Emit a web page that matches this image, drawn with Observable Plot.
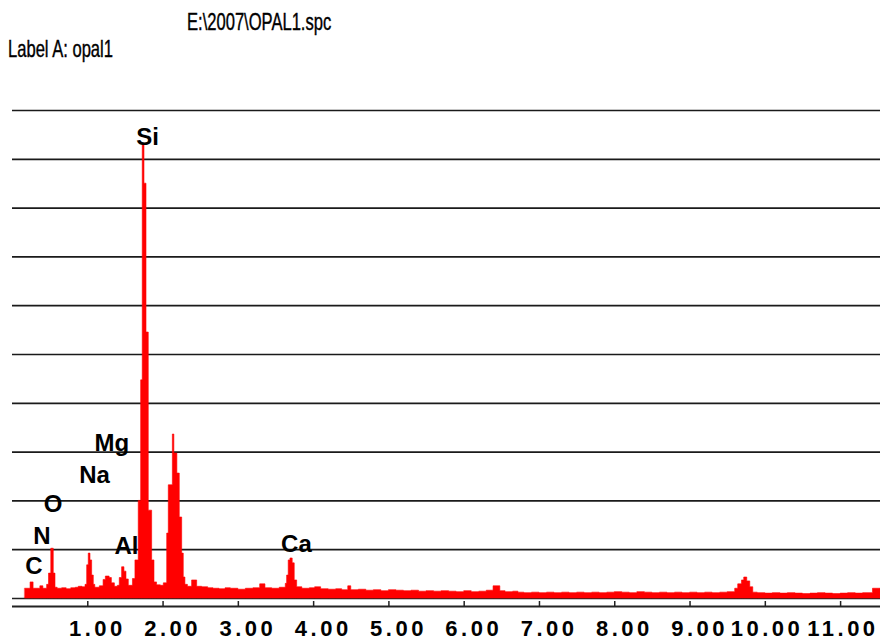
<!DOCTYPE html>
<html><head><meta charset="utf-8">
<script src="https://cdn.jsdelivr.net/npm/d3@7"></script>
<script src="https://cdn.jsdelivr.net/npm/@observablehq/plot@0.6"></script>
<style>
html,body{margin:0;padding:0;background:#fff;}
#wrap{position:relative;width:880px;height:644px;overflow:hidden;background:#fff;}
.hdr{position:absolute;font-family:"Liberation Sans",Arial,sans-serif;font-size:24px;line-height:24px;white-space:nowrap;transform-origin:0 0;transform:scaleX(0.69);color:#000;-webkit-text-stroke:0.4px #000;}
#chart{position:absolute;left:0;top:0;}
#chart g[aria-label="x-axis tick label"] text{letter-spacing:3.5px;}
</style></head><body>
<div id="wrap">
<div id="chart"></div>
<div class="hdr" id="title" style="left:187px;top:10px;"></div>
<div class="hdr" id="label" style="left:8px;top:37px;"></div>
</div>
<script>
const titleText = "E:\\2007\\OPAL1.spc";
const labelText = "Label A: opal1";

// Energy (keV) and counts, step after each channel start
const spectrumPairs = [
  [0.17, 20],[0.24, 33],[0.28, 20],[0.37, 25],[0.41, 20],[0.46, 28],[0.485, 51],[0.515, 102],[0.548, 51],[0.571, 22],
  [0.60, 20],[0.66, 21],[0.72, 19],[0.78, 21],[0.84, 22],[0.88, 24],[0.93, 23],[0.97, 28],
  [0.992, 68],[1.013, 92],[1.036, 78],[1.058, 47],[1.08, 28],[1.10, 22],
  [1.16, 25],[1.21, 38],[1.24, 45],[1.29, 42],[1.32, 31],[1.36, 24],[1.40, 26],
  [1.425, 42],[1.456, 64],[1.487, 55],[1.514, 39],[1.545, 26],[1.60, 40],
  [1.633, 78],[1.677, 200],[1.709, 447],[1.730, 932],[1.753, 850],[1.780, 545],[1.810, 180],[1.855, 78],[1.886, 33],[1.92, 27],
  [1.97, 26],[2.01, 31],[2.055, 133],[2.076, 232],[2.13, 336],[2.15, 297],[2.19, 256],[2.222, 166],[2.254, 92],[2.275, 43],[2.297, 28],
  [2.33, 24],[2.386, 37],[2.453, 24],[2.52, 23],[2.60, 21],[2.67, 20],[2.75, 19],[2.83, 21],[2.90, 20],[3.00, 18],[3.10, 20],[3.20, 21],
  [3.29, 29],[3.36, 21],[3.45, 20],[3.55, 22],
  [3.63, 30],[3.648, 47],[3.669, 78],[3.692, 82],[3.722, 72],[3.749, 37],[3.781, 23],
  [3.85, 20],[3.95, 21],[4.02, 23],[4.10, 19],[4.20, 18],[4.30, 19],[4.38, 17],[4.46, 25],[4.50, 17],[4.60, 18],[4.70, 16],
  [4.80, 17],[4.90, 15],[5.00, 17],[5.10, 16],[5.20, 15],[5.30, 16],[5.40, 14],[5.50, 15],[5.60, 14],[5.70, 15],[5.80, 14],
  [5.90, 13],[6.00, 15],[6.10, 13],[6.20, 14],[6.30, 16],[6.39, 25],[6.48, 15],[6.55, 13],[6.65, 14],[6.72, 12],[6.80, 11],
  [6.90, 12],[7.00, 11],[7.10, 12],[7.20, 11],[7.30, 12],[7.40, 11],[7.50, 12],[7.60, 11],[7.70, 12],[7.80, 11],[7.90, 12],
  [8.00, 13],[8.10, 12],[8.20, 11],[8.30, 13],[8.40, 12],[8.50, 11],[8.60, 12],[8.70, 11],[8.80, 12],[8.90, 11],[9.00, 12],
  [9.10, 11],[9.20, 12],[9.30, 11],[9.40, 12],[9.50, 13],
  [9.60, 20],[9.64, 29],[9.69, 37],[9.72, 43],[9.76, 35],[9.80, 23],[9.84, 12],
  [9.90, 11],[10.00, 10],[10.10, 11],[10.20, 10],[10.30, 11],[10.40, 10],[10.50, 9],[10.60, 10],[10.70, 11],[10.80, 10],
  [10.90, 9],[11.00, 10],[11.10, 11],[11.20, 10],[11.30, 11],[11.43, 20],[11.53, 20]
];

// Element labels: name, label energy, label height (counts)
const elementNames   = ["C", "N", "O", "Na", "Mg", "Al", "Si", "Ca"];
const elementEnergy  = [0.286, 0.392, 0.538, 1.089, 1.321, 1.514, 1.793, 3.772];
const elementHeight  = [65, 128, 194, 253, 319, 106, 946, 112];

const tickValues = [1, 2, 3, 4, 5, 6, 7, 8, 9, 10, 11];
const gridValues = [100, 200, 300, 400, 500, 600, 700, 800, 900, 1000];
const xDomain = [0, 11.53];
const yMin = -16.4;

document.getElementById("title").textContent = titleText;
document.getElementById("label").textContent = labelText;

const spectrum = spectrumPairs.map(([e, c]) => ({e, c}));
const elements = elementNames.map((name, i) => ({name, x: elementEnergy[i], y: elementHeight[i]}));

const chart = Plot.plot({
  width: 880, height: 644,
  marginTop: 110, marginBottom: 38, marginLeft: 12, marginRight: 0,
  style: {fontFamily: "Liberation Sans, Arial, sans-serif", background: "transparent", color: "#000"},
  x: {domain: xDomain},
  y: {domain: [yMin, 1000], axis: null},
  marks: [
    Plot.ruleY(gridValues, {stroke: "#1a1a1a", strokeWidth: 1.7}),
    Plot.ruleY([0], {stroke: "#222", strokeWidth: 1.5}),
    Plot.areaY(spectrum, {x: "e", y: "c", curve: "step-after", fill: "#ff0000", stroke: "#ff0000", strokeWidth: 0.6}),
    Plot.ruleY([yMin], {stroke: "#222", strokeWidth: 2}),
    Plot.ruleX(tickValues, {x: d => d, y1: yMin, y2: yMin + 10.25, stroke: "#222", strokeWidth: 1.5}),
    Plot.axisX(tickValues, {tickSize: 0, tickPadding: 13.4, textAnchor: "end", dx: 38, label: null,
      tickFormat: d => d.toFixed(2), fontSize: 22, fontWeight: "bold", fill: "#000"}),
    Plot.text(elements, {x: "x", y: "y", text: "name", fontSize: 24, fontWeight: "bold", fill: "#000"})
  ]
});
document.getElementById("chart").appendChild(chart);
</script>
</body></html>
